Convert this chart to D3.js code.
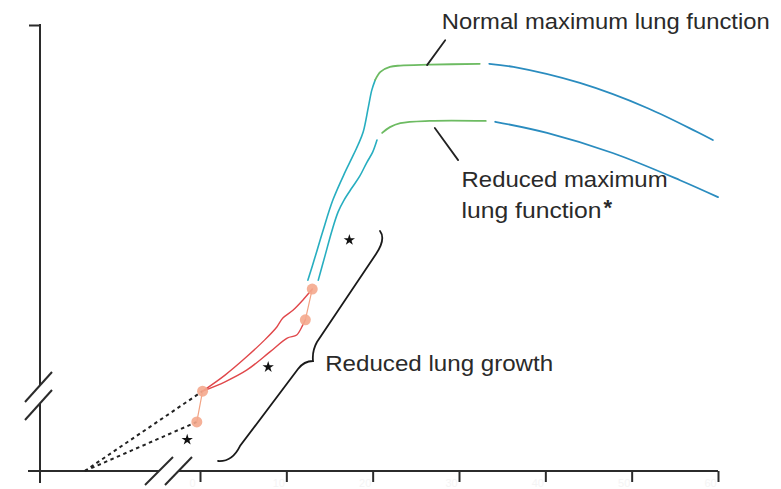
<!DOCTYPE html>
<html><head><meta charset="utf-8">
<script src="https://cdn.jsdelivr.net/npm/d3@7"></script>
<style>
html,body{margin:0;padding:0;background:#fff;}
svg{display:block;font-family:"Liberation Sans",Arial,Helvetica,sans-serif;}
</style></head>
<body>
<svg id="chart" width="781" height="489"></svg>
<script>
// ---- data (x = age in years, prenatal compressed; y = lung function, arbitrary units 0-100) ----
const tickAges   = [0, 10, 20, 30, 40, 50, 60];
const tickLabels = ["0", "10", "20", "30", "40", "50", "60"];

const prenatalNormal  = [[-0.72, 0], [0.3, 17.9]];
const prenatalReduced = [[-0.72, 0], [-0.02, 11.0]];

const childNormal  = [[0.3,17.9],[2.9,21.5],[5.4,25.6],[7.5,29.4],[8.9,32.3],[9.6,34.3],[10.8,36.1],[11.9,38.3],[13.0,40.8]];
const childReduced = [[0.3,17.9],[2.9,20.0],[5.4,22.6],[8.1,26.7],[10.1,29.8],[11.2,30.5],[11.9,32.7],[12.2,33.9]];

const adolNormal  = [[12.5,42.8],[13.3,47.8],[14.2,53.6],[15.4,60.8],[16.8,67.0],[17.6,70.2],[18.3,73.1],[18.9,76.0],[19.5,81.6],[19.9,85.4],[20.3,87.7]];
const adolReduced = [[13.7,42.8],[14.5,48.4],[15.3,54.0],[16.0,58.1],[16.7,60.8],[17.6,63.5],[18.5,66.1],[19.3,69.1],[20.0,71.5],[20.5,74.2]];

const plateauNormal  = [[20.3,87.7],[20.9,89.5],[22.0,90.6],[23.2,90.9],[26.6,91.1],[32.4,91.3]];
const plateauReduced = [[21.1,75.8],[22.0,77.1],[23.2,78.0],[26.6,78.5],[33.1,78.5]];

const declineNormal  = [[33.5,91.3],[36.3,90.6],[44.0,87.0],[51.8,81.4],[57.6,76.0],[59.4,74.2]];
const declineReduced = [[34.2,78.3],[40.2,75.8],[47.8,71.3],[55.6,65.2],[60.0,61.4]];

const milestoneDots = [[0.3,17.9],[-0.02,11.0],[13.0,40.8],[12.2,33.9]];
const dotLinks = [[[0.3,17.9],[-0.02,11.0]], [[13.0,40.8],[12.2,33.9]]];

const stars = [[-0.08,7.0],[7.9,23.3],[17.3,51.8]];

const labelNormal  = "Normal maximum lung function";
const labelReduced = ["Reduced maximum", "lung function"];
const labelGrowth  = "Reduced lung growth";

// ---- scales ----
const x = d3.scaleLinear().domain([-1, 0, 60]).range([40, 200, 718]);
const y = d3.scaleLinear().domain([0, 100]).range([471, 25]);

const svg = d3.select("#chart");
const axisColor = "#2b2b2b";

// ---- axes ----
const xAxis = d3.axisBottom(x).tickValues(tickAges).tickSize(11).tickSizeOuter(0)
  .tickFormat((d, i) => tickLabels[i]);
const gx = svg.append("g").attr("transform", `translate(0,${y(0)})`).call(xAxis);
gx.select(".domain").remove();
gx.selectAll(".tick line").attr("stroke", axisColor).attr("stroke-width", 2);
gx.selectAll(".tick text").attr("fill", "#f4f4f4").attr("font-size", 11).attr("dx", -8).attr("dy", 2);

// x axis line with break
svg.append("line").attr("x1", 28).attr("x2", 159).attr("y1", y(0)).attr("y2", y(0))
  .attr("stroke", axisColor).attr("stroke-width", 2);
svg.append("line").attr("x1", 179).attr("x2", x(60)).attr("y1", y(0)).attr("y2", y(0))
  .attr("stroke", axisColor).attr("stroke-width", 2);
[[145,485,173,457],[165,485,192,457]].forEach(s =>
  svg.append("line").attr("x1", s[0]).attr("y1", s[1]).attr("x2", s[2]).attr("y2", s[3])
    .attr("stroke", axisColor).attr("stroke-width", 2));

// y axis with break
const yAxis = d3.axisLeft(y).tickValues([100]).tickSize(11).tickSizeOuter(0).tickFormat("");
const gy = svg.append("g").attr("transform", `translate(${x(-1)},0)`).call(yAxis);
gy.select(".domain").remove();
gy.selectAll(".tick line").attr("stroke", axisColor).attr("stroke-width", 2);
svg.append("line").attr("x1", x(-1)).attr("x2", x(-1)).attr("y1", y(100) - 1).attr("y2", 385)
  .attr("stroke", axisColor).attr("stroke-width", 2);
svg.append("line").attr("x1", x(-1)).attr("x2", x(-1)).attr("y1", 403).attr("y2", 483)
  .attr("stroke", axisColor).attr("stroke-width", 2);
[[25,402,52,372],[25,420,52,390]].forEach(s =>
  svg.append("line").attr("x1", s[0]).attr("y1", s[1]).attr("x2", s[2]).attr("y2", s[3])
    .attr("stroke", axisColor).attr("stroke-width", 2));

// ---- curves ----
const line = d3.line().x(d => x(d[0])).y(d => y(d[1])).curve(d3.curveCatmullRom.alpha(0.5));
const straight = d3.line().x(d => x(d[0])).y(d => y(d[1]));

function draw(data, color, width, gen, dash) {
  const p = svg.append("path").datum(data).attr("d", gen || line)
    .attr("fill", "none").attr("stroke", color).attr("stroke-width", width)
    .attr("stroke-linecap", "round").attr("stroke-linejoin", "round");
  if (dash) p.attr("stroke-dasharray", dash).attr("stroke-linecap", "butt");
  return p;
}

draw(prenatalNormal, "#222", 2, straight, "3.5,3.5");
draw(prenatalReduced, "#222", 2, straight, "3.5,3.5");

dotLinks.forEach(l => draw(l, "#f2a384", 1.2, straight));

draw(childNormal, "#e0474a", 1.4);
draw(childReduced, "#e0474a", 1.4);

draw(adolNormal, "#27aec0", 1.6);
draw(adolReduced, "#27aec0", 1.6);

draw(plateauNormal, "#6dbb62", 1.8);
draw(plateauReduced, "#6dbb62", 1.8);

draw(declineNormal, "#2a8cbf", 1.8);
draw(declineReduced, "#2a8cbf", 1.8);

svg.selectAll("circle.dot").data(milestoneDots).join("circle")
  .attr("class", "dot").attr("cx", d => x(d[0])).attr("cy", d => y(d[1])).attr("r", 5.5)
  .attr("fill", "#f4a88d").attr("fill-opacity", 0.9);

svg.selectAll("path.star").data(stars).join("path")
  .attr("class", "star").attr("d", d3.symbol(d3.symbolStar, 40))
  .attr("transform", d => `translate(${x(d[0])},${y(d[1])})`).attr("fill", "#111");

// brace (annotation, points in data units)
const bp = {
  a: [2.09, 2.24], ac: [3.72, 2.02], b: [4.63, 5.6], c: [11.35, 22.87],
  cc: [12.05, 24.66], d: [13.09, 24.66], dc: [12.97, 26.9], e: [13.55, 28.92],
  f: [20.39, 48.65], fc: [21.55, 52.02], g: [20.85, 53.81]
};
const P = k => `${x(bp[k][0])},${y(bp[k][1])}`;
svg.append("path")
  .attr("d", `M${P("a")}Q${P("ac")} ${P("b")}L${P("c")}Q${P("cc")} ${P("d")}Q${P("dc")} ${P("e")}L${P("f")}Q${P("fc")} ${P("g")}`)
  .attr("fill", "none").attr("stroke", "#1a1a1a").attr("stroke-width", 1.8).attr("stroke-linecap", "round");

draw([[26.3,91.0],[28.4,96.6]], "#222", 1.8, straight);
draw([[27.2,76.9],[29.9,69.7]], "#222", 1.8, straight);

// ---- labels ----
const txtColor = "#2a2a2a";
function label(str, ax, vy, len, size) {
  return svg.append("text").attr("x", x(ax)).attr("y", y(vy)).text(str)
    .attr("fill", txtColor).attr("font-size", size || 21.5)
    .attr("textLength", len).attr("lengthAdjust", "spacingAndGlyphs");
}
label(labelNormal, 28.0, 99.1, 328);
label(labelReduced[0], 30.3, 63.7, 206);
label(labelReduced[1], 30.3, 56.7, 140);
svg.append("text").attr("x", x(30.3) + 142).attr("y", y(56.7) - 3).text("*")
  .attr("fill", txtColor).attr("font-size", 22).attr("font-weight", "bold");
label(labelGrowth, 14.5, 22.4, 228);
</script>
</body></html>
